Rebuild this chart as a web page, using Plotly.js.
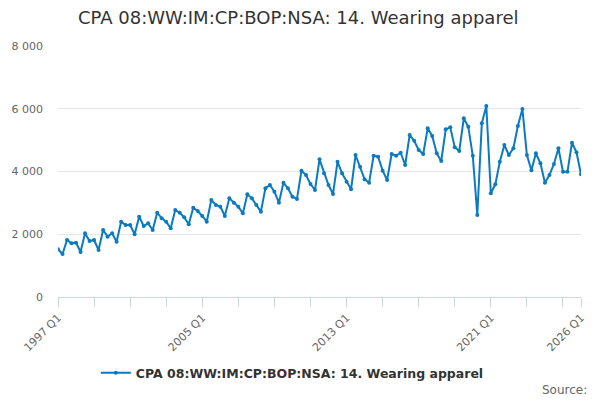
<!DOCTYPE html>
<html>
<head>
<meta charset="utf-8">
<script src="https://cdn.plot.ly/plotly-3.0.1.min.js"></script>
<style>
  html, body { margin: 0; padding: 0; background: #fff; }
  #chart { width: 600px; height: 400px; }
</style>
</head>
<body>
<div id="chart"></div>
<script>
// quarterly values, 1997 Q1 .. 2026 Q1
var firstYear = 1997
var values = [
    1520, 1370, 1817, 1710,
    1732, 1434, 2030, 1785,
    1817, 1498, 2135, 1923,
    2030, 1763, 2400, 2295,
    2295, 1998, 2560, 2263,
    2348, 2135, 2687, 2508,
    2400, 2189, 2773, 2687,
    2539, 2317, 2847, 2741,
    2582, 2400, 3092, 2932,
    2880, 2582, 3145, 3006,
    2880, 2667, 3273, 3145,
    2932, 2720, 3464, 3570,
    3357, 3006, 3643, 3464,
    3198, 3123, 4026, 3888,
    3602, 3410, 4388, 3943,
    3570, 3283, 4313, 3943,
    3675, 3432, 4526, 4153,
    3751, 3643, 4503, 4473,
    4026, 3729, 4558, 4503,
    4600, 4207, 5163, 4982,
    4685, 4558, 5376, 5131,
    4580, 4335, 5344, 5408,
    4771, 4653, 5695, 5428,
    4500, 2613, 5535, 6087,
    3305, 3592, 4313, 4845,
    4526, 4739, 5450, 5992,
    4526, 4038, 4580, 4260,
    3643, 3888, 4239, 4739,
    3994, 3994, 4918, 4611,
    3910
]
var labeledTicks = ['1997 Q1', '2005 Q1', '2013 Q1', '2021 Q1', '2026 Q1']
var seriesName = 'CPA 08:WW:IM:CP:BOP:NSA: 14. Wearing apparel'

var quarters = values.map(function (v, i) {
    return (firstYear + Math.floor(i / 4)) + ' Q' + (i % 4 + 1)
})

// tick every two years, plus the last point
var tickvals = quarters.filter(function (q, i) { return i % 8 === 0 })
tickvals.push(quarters[quarters.length - 1])
var ticktext = tickvals.map(function (q) {
    return labeledTicks.indexOf(q) >= 0 ? q : ''
})

var color = '#0b7bc1'

Plotly.newPlot('chart', [{
    x: quarters,
    y: values,
    type: 'scatter',
    mode: 'lines+markers',
    name: '<b>' + seriesName + '</b>',
    line: { color: color, width: 2 },
    marker: { color: color, size: 4 }
}], {
    width: 600,
    height: 400,
    margin: { l: 58, r: 19, t: 46, b: 103 },
    paper_bgcolor: '#fff',
    plot_bgcolor: '#fff',
    font: { family: 'DejaVu Sans, sans-serif', color: '#666', size: 11 },
    separators: '. ',
    title: {
        text: seriesName,
        font: { size: 18, color: '#333' },
        x: 0.497, xref: 'container', xanchor: 'center',
        y: 0.955, yref: 'container', yanchor: 'middle'
    },
    xaxis: {
        type: 'category',
        range: [0, quarters.length - 1],
        tickmode: 'array',
        tickvals: tickvals,
        ticktext: ticktext,
        tickangle: -45,
        ticks: 'outside',
        ticklen: 9,
        tickcolor: '#ccd6eb',
        showline: true,
        linecolor: '#ccd6eb',
        showgrid: false,
        zeroline: false,
        tickfont: { size: 11, color: '#666' }
    },
    yaxis: {
        range: [0, 8000],
        dtick: 2000,
        tickformat: ',d',
        gridcolor: '#e6e6e6',
        zeroline: false,
        ticks: '',
        ticklabelstandoff: 14,
        tickfont: { size: 11, color: '#666' }
    },
    showlegend: true,
    legend: {
        orientation: 'h',
        x: 0.448, xanchor: 'center',
        y: -0.303, yanchor: 'middle',
        font: { size: 12.5, color: '#333' }
    },
    annotations: [{
        text: 'Source:',
        xref: 'paper', yref: 'paper',
        x: 1.015, xanchor: 'right',
        y: -0.371, yanchor: 'middle',
        showarrow: false,
        font: { size: 12, color: '#666' }
    }]
}, { displayModeBar: false })
</script>
</body>
</html>
